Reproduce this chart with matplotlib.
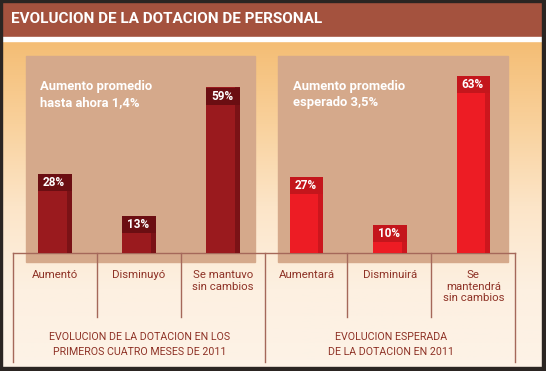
import numpy as np
import matplotlib
matplotlib.use('Agg')
import matplotlib.pyplot as plt
from matplotlib.patches import Rectangle
from matplotlib.colors import LinearSegmentedColormap
from matplotlib import font_manager

# ---------------- data ----------------
title = "EVOLUCION DE LA DOTACION DE PERSONAL"
left_categories = ["Aumentó", "Disminuyó", "Se mantuvo\nsin cambios"]
left_values = [28, 13, 59]
right_categories = ["Aumentará", "Disminuirá", "Se\nmantendrá\nsin cambios"]
right_values = [27, 10, 63]
left_note = "Aumento promedio\nhasta ahora 1,4%"
right_note = "Aumento promedio\nesperado 3,5%"
left_group = "EVOLUCION DE LA DOTACION EN LOS\nPRIMEROS CUATRO MESES DE 2011"
right_group = "EVOLUCION ESPERADA\nDE LA DOTACION EN 2011"

names = {f.name for f in font_manager.fontManager.ttflist}
FAM = [n for n in ["Roboto", "DejaVu Sans"] if n in names]
plt.rcParams['font.family'] = FAM

W, H = 546, 371
fig = plt.figure(figsize=(W / 100, H / 100), dpi=100)
bg = fig.add_axes([0, 0, 1, 1])
bg.set_xlim(0, W)
bg.set_ylim(H, 0)
bg.axis('off')

grad = LinearSegmentedColormap.from_list('g', ['#f4bd74', '#f9d19c', '#fce5c8', '#fdf0e1', '#fdf3e7'])
gy = np.linspace(0, 1, 256).reshape(-1, 1)
bg.imshow(gy, extent=[0, W, H, 41], cmap=grad, aspect='auto', zorder=0)

bg.add_patch(Rectangle((0, 0), W, 37, color='#a4523e', zorder=1))
bg.add_patch(Rectangle((0, 37), W, 4, color='white', zorder=1))

panel_c = '#d5a98b'
bg.add_patch(Rectangle((26, 56), 229, 206, color=panel_c, zorder=1))
bg.add_patch(Rectangle((278, 56), 230, 206, color=panel_c, zorder=1))

line_c = '#a5685a'
base_y = 252.7
bg.plot([13, 515], [base_y, base_y], color=line_c, lw=1, zorder=2)
for x in [13, 265, 515]:
    bg.plot([x, x], [base_y, 362], color=line_c, lw=1, zorder=2)
for x in [97, 181, 347, 431]:
    bg.plot([x, x], [base_y, 317], color=line_c, lw=1, zorder=2)

border = '#2b2522'
for r in [(0, 0, W, 2), (0, 0, 2, H), (542, 0, 4, H), (0, 367, W, 4)]:
    bg.add_patch(Rectangle(r[:2], r[2], r[3], color=border, zorder=5))


def lines_text(ax, x, y0, txt, step, **kw):
    for i, ln in enumerate(txt.split("\n")):
        ax.text(x, y0 + i * step, ln, va='baseline', zorder=3, **kw)


bg.text(11, 23, title, color='white', fontsize=11, fontweight='bold', va='baseline', zorder=3)
lines_text(bg, 40, 90, left_note, 16, color='white', fontsize=9.4, fontweight='bold')
lines_text(bg, 293, 90, right_note, 16, color='white', fontsize=9.4, fontweight='bold')

text_c = '#8e3226'
lines_text(bg, 140, 340, left_group, 15, color=text_c, fontsize=7.7, ha='center')
lines_text(bg, 391, 340, right_group, 15, color=text_c, fontsize=7.7, ha='center')

PX_PER_PCT = 2.80
AX_H = 210


def draw_group(x0, width, cats, vals, main_c, shadow_c, box_c):
    ax = fig.add_axes([x0 / W, (H - base_y) / H, width / W, AX_H / H])
    ax.set_xlim(-0.5, len(cats) - 0.5)
    ax.set_ylim(0, AX_H / PX_PER_PCT)
    ax.axis('off')
    ax.patch.set_alpha(0)
    xs = np.arange(len(cats))
    vals = np.array(vals, dtype=float)
    bw = 0.40
    sw = 0.06
    bh = 17 / PX_PER_PCT
    ax.bar(xs, vals, bw, color=main_c, zorder=2)
    ax.bar(xs + bw / 2 - sw / 2, vals, sw, color=shadow_c, zorder=3)
    ax.bar(xs, np.full(len(vals), bh), bw, bottom=vals - bh, color=box_c, zorder=4)
    for xi, v, c in zip(xs, vals, cats):
        ax.text(xi - 0.01, v - bh / 2, f"{int(v)}%", color='white', fontsize=8.5, fontweight='bold',
                ha='center', va='center', zorder=5)
        for j, ln in enumerate(c.split("\n")):
            ax.annotate(ln, xy=(xi, 0), xytext=(0, -(25.6 + 11.3 * j) * 0.72), textcoords='offset points',
                        ha='center', va='baseline', color=text_c, fontsize=8.2,
                        annotation_clip=False)
    return ax


draw_group(13, 252, left_categories, left_values, '#9a1a1e', '#7a1216', '#6b0e12')
draw_group(265, 250, right_categories, right_values, '#ed1c24', '#cc161d', '#c4161c')

fig.savefig('out.png', dpi=100)
